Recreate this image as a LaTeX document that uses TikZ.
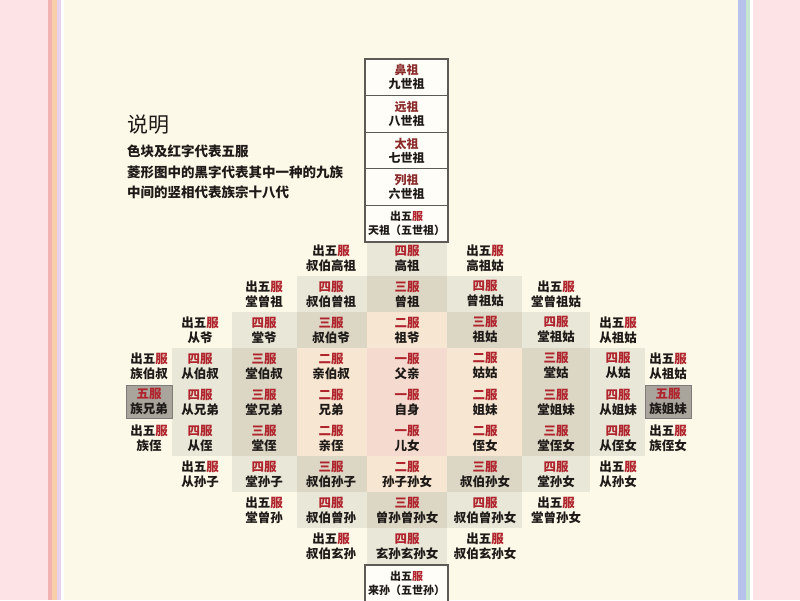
\documentclass[tikz,border=0pt]{standalone}
\usepackage{fontspec}
\usepackage{xcolor}
\newfontfamily\cjk{Noto Sans CJK SC}
\definecolor{pagepink}{HTML}{FDE2E6}
\definecolor{cream}{HTML}{FCF9E8}
\definecolor{fured}{HTML}{B0252D}
\definecolor{darkred}{HTML}{8B2B2B}
\definecolor{ink}{HTML}{1E1A18}
\definecolor{peach}{HTML}{F7E6D1}
\definecolor{pinkc}{HTML}{F5DBCF}
\definecolor{san}{HTML}{DCD7C5}
\definecolor{si}{HTML}{E9E7D8}
\definecolor{wu}{HTML}{A9A59D}
\definecolor{boxline}{HTML}{5E5A56}
\definecolor{stA}{HTML}{F2B3B0}
\definecolor{stB}{HTML}{F8CFA8}
\definecolor{stC}{HTML}{E6D2EA}
\definecolor{stD}{HTML}{B6C2EC}
\definecolor{stE}{HTML}{C6E6CF}
\newcommand\chu{出五\textcolor{fured}{服}}
\newcommand\fu[1]{\textcolor{fured}{#1服}}
\tikzset{
  kin/.style={align=center, inner sep=0pt, text=ink,
    font=\cjk\bfseries\fontsize{12.5}{15}\selectfont},
  stackbox/.style={draw=boxline, line width=1.1pt, fill=white!70!cream,
    minimum width=83pt, minimum height=36.6pt, inner sep=0pt, align=center,
    text=ink, font=\cjk\bfseries\fontsize{12}{14}\selectfont},
  wubox/.style={kin, draw=boxline!80, line width=0.8pt, fill=wu,
    minimum width=46pt, minimum height=33pt},
  note/.style={anchor=west, inner sep=0pt, text=ink,
    font=\cjk\bfseries\fontsize{13.5}{14}\selectfont},
}
\begin{document}
\begin{tikzpicture}[x=1pt, y=-1pt]
\useasboundingbox (0,0) rectangle (800,600);
\clip (0,0) rectangle (800,600);
% page background and stripes
\fill[pagepink] (0,0) rectangle (800,600);
\fill[cream] (61,0) rectangle (738,600);
\fill[stA] (48,0) rectangle (52,600);
\fill[stB] (52,0) rectangle (57,600);
\fill[stC] (57,0) rectangle (61,600);
\fill[white] (61,0) rectangle (64,600);
\fill[stD] (738,0) rectangle (746,600);
\fill[stE] (746,0) rectangle (750,600);
\fill[white] (750,0) rectangle (753,600);
% explanation
\node[anchor=west, inner sep=0pt, text=ink, font=\cjk\fontsize{21}{21}\selectfont] (title) at (127,125) {说明};
\node[note] (note1) at (127,151) {色块及红字代表五服};
\node[note] (note2) at (127,172) {菱形图中的黑字代表其中一种的九族};
\node[note] (note3) at (127,192) {中间的竖相代表族宗十八代};
% colour blocks: 2nd degree (peach)
\fill[peach] (367,312) rectangle (447,348);
\fill[peach] (367,456) rectangle (447,492);
\fill[peach] (297,348) rectangle (367,456);
\fill[peach] (447,348) rectangle (522,456);
% 1st degree
\fill[pinkc] (367,348) rectangle (447,456);
% 3rd degree
\fill[san] (367,276) rectangle (447,312);
\fill[san] (367,492) rectangle (447,528);
\fill[san] (297,312) rectangle (367,348);
\fill[san] (297,456) rectangle (367,492);
\fill[san] (447,312) rectangle (522,348);
\fill[san] (447,456) rectangle (522,492);
\fill[san] (232,348) rectangle (297,456);
\fill[san] (522,348) rectangle (590,456);
% 4th degree
\fill[si] (367,240) rectangle (447,276);
\fill[si] (367,528) rectangle (447,564);
\fill[si] (297,276) rectangle (367,312);
\fill[si] (297,492) rectangle (367,528);
\fill[si] (447,276) rectangle (522,312);
\fill[si] (447,492) rectangle (522,528);
\fill[si] (232,312) rectangle (297,348);
\fill[si] (232,456) rectangle (297,492);
\fill[si] (522,312) rectangle (590,348);
\fill[si] (522,456) rectangle (590,492);
\fill[si] (172,348) rectangle (232,456);
\fill[si] (590,348) rectangle (645,456);
% ancestor stack
\node[stackbox] (s9) at (406.5,77.3) {\textcolor{darkred}{鼻祖}\\九世祖};
\node[stackbox] (s8) at (406.5,113.9) {\textcolor{darkred}{远祖}\\八世祖};
\node[stackbox] (s7) at (406.5,150.5) {\textcolor{darkred}{太祖}\\七世祖};
\node[stackbox] (s6) at (406.5,187.1) {\textcolor{darkred}{列祖}\\六世祖};
\node[stackbox, font=\cjk\bfseries\fontsize{11}{14}\selectfont] (s5) at (406.5,223.7) {\chu\\天祖（五世祖）};
\node[stackbox, font=\cjk\bfseries\fontsize{11}{14}\selectfont] (d5) at (406.5,583.3) {\chu\\来孙（五世孙）};
% row 1
\node[kin] (l1r1) at (331,258) {\chu\\叔伯高祖};
\node[kin] (cr1)  at (407,258) {\fu{四}\\高祖};
\node[kin] (r1r1) at (485,258) {\chu\\高祖姑};
% row 2
\node[kin] (l2r2) at (264,294) {\chu\\堂曾祖};
\node[kin] (l1r2) at (331,294) {\fu{四}\\叔伯曾祖};
\node[kin] (cr2)  at (407,294) {\fu{三}\\曾祖};
\node[kin] (r1r2) at (485,294) {\fu{四}\\曾祖姑};
\node[kin] (r2r2) at (556,294) {\chu\\堂曾祖姑};
% row 3
\node[kin] (l3r3) at (200,330) {\chu\\从爷};
\node[kin] (l2r3) at (264,330) {\fu{四}\\堂爷};
\node[kin] (l1r3) at (331,330) {\fu{三}\\叔伯爷};
\node[kin] (cr3)  at (407,330) {\fu{二}\\祖爷};
\node[kin] (r1r3) at (485,330) {\fu{三}\\祖姑};
\node[kin] (r2r3) at (556,330) {\fu{四}\\堂祖姑};
\node[kin] (r3r3) at (618,330) {\chu\\从祖姑};
% row 4
\node[kin] (l4r4) at (149,366) {\chu\\族伯叔};
\node[kin] (l3r4) at (200,366) {\fu{四}\\从伯叔};
\node[kin] (l2r4) at (264,366) {\fu{三}\\堂伯叔};
\node[kin] (l1r4) at (331,366) {\fu{二}\\亲伯叔};
\node[kin] (cr4)  at (407,366) {\fu{一}\\父亲};
\node[kin] (r1r4) at (485,366) {\fu{二}\\姑姑};
\node[kin] (r2r4) at (556,366) {\fu{三}\\堂姑};
\node[kin] (r3r4) at (618,366) {\fu{四}\\从姑};
\node[kin] (r4r4) at (668,366) {\chu\\从祖姑};
% row 5
\node[wubox] (l4r5) at (149,401.5) {\fu{五}\\族兄弟};
\node[kin] (l3r5) at (200,402) {\fu{四}\\从兄弟};
\node[kin] (l2r5) at (264,402) {\fu{三}\\堂兄弟};
\node[kin] (l1r5) at (331,402) {\fu{二}\\兄弟};
\node[kin] (cr5)  at (407,402) {\fu{一}\\自身};
\node[kin] (r1r5) at (485,402) {\fu{二}\\姐妹};
\node[kin] (r2r5) at (556,402) {\fu{三}\\堂姐妹};
\node[kin] (r3r5) at (618,402) {\fu{四}\\从姐妹};
\node[wubox] (r4r5) at (668,401.5) {\fu{五}\\族姐妹};
% row 6
\node[kin] (l4r6) at (149,438) {\chu\\族侄};
\node[kin] (l3r6) at (200,438) {\fu{四}\\从侄};
\node[kin] (l2r6) at (264,438) {\fu{三}\\堂侄};
\node[kin] (l1r6) at (331,438) {\fu{二}\\亲侄};
\node[kin] (cr6)  at (407,438) {\fu{一}\\儿女};
\node[kin] (r1r6) at (485,438) {\fu{二}\\侄女};
\node[kin] (r2r6) at (556,438) {\fu{三}\\堂侄女};
\node[kin] (r3r6) at (618,438) {\fu{四}\\从侄女};
\node[kin] (r4r6) at (668,438) {\chu\\族侄女};
% row 7
\node[kin] (l3r7) at (200,474) {\chu\\从孙子};
\node[kin] (l2r7) at (264,474) {\fu{四}\\堂孙子};
\node[kin] (l1r7) at (331,474) {\fu{三}\\叔伯孙子};
\node[kin] (cr7)  at (407,474) {\fu{二}\\孙子孙女};
\node[kin] (r1r7) at (485,474) {\fu{三}\\叔伯孙女};
\node[kin] (r2r7) at (556,474) {\fu{四}\\堂孙女};
\node[kin] (r3r7) at (618,474) {\chu\\从孙女};
% row 8
\node[kin] (l2r8) at (264,510) {\chu\\堂曾孙};
\node[kin] (l1r8) at (331,510) {\fu{四}\\叔伯曾孙};
\node[kin] (cr8)  at (407,510) {\fu{三}\\曾孙曾孙女};
\node[kin] (r1r8) at (485,510) {\fu{四}\\叔伯曾孙女};
\node[kin] (r2r8) at (556,510) {\chu\\堂曾孙女};
% row 9
\node[kin] (l1r9) at (331,546) {\chu\\叔伯玄孙};
\node[kin] (cr9)  at (407,546) {\fu{四}\\玄孙玄孙女};
\node[kin] (r1r9) at (485,546) {\chu\\叔伯玄孙女};
\end{tikzpicture}
\end{document}
